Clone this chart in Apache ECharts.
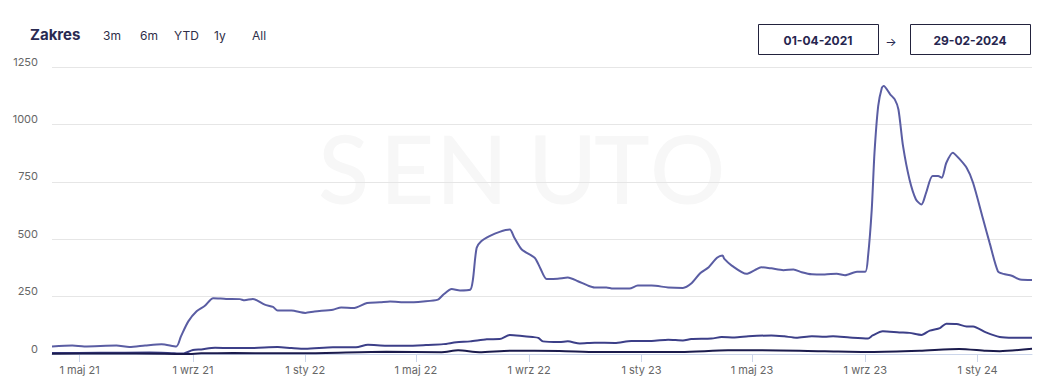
<!DOCTYPE html>
<html>
<head>
<meta charset="utf-8">
<script src="https://cdn.jsdelivr.net/npm/echarts@6/dist/echarts.min.js"></script>
<style>
html,body{margin:0;padding:0;background:#fff;}
#chart{width:1055px;height:389px;}
</style>
</head>
<body>
<div id="chart"></div>
<script>
// ---- DATA ----
const rangeButtons = ['3m', '6m', 'YTD', '1y', 'All'];
const rangeTitle = 'Zakres';
const dateFrom = '01-04-2021';
const dateTo = '29-02-2024';
const watermark = 'SENUTO';

const xMin = '2021-04-01';
const xMax = '2024-02-29';
const tickDates = ['2021-05-01','2021-09-01','2022-01-01','2022-05-01','2022-09-01','2023-01-01','2023-05-01','2023-09-01','2024-01-01'];
const tickLabels = ['1 maj 21','1 wrz 21','1 sty 22','1 maj 22','1 wrz 22','1 sty 23','1 maj 23','1 wrz 23','1 sty 24'];
const yTicks = [0, 250, 500, 750, 1000, 1250];

const datesA = ['2021-04-01','2021-04-23','2021-05-06','2021-06-10','2021-06-24','2021-07-11','2021-07-29','2021-08-14','2021-08-19','2021-08-27','2021-09-05','2021-09-14','2021-09-23','2021-10-07','2021-10-22','2021-10-27','2021-11-05','2021-11-18','2021-11-27','2021-12-02','2021-12-17','2022-01-01','2022-01-11','2022-01-31','2022-02-09','2022-02-22','2022-03-09','2022-03-23','2022-04-03','2022-04-21','2022-05-09','2022-05-25','2022-05-31','2022-06-09','2022-06-18','2022-06-29','2022-07-02','2022-07-06','2022-07-11','2022-07-20','2022-07-31','2022-08-11','2022-08-16','2022-08-24','2022-09-07','2022-09-13','2022-09-20','2022-10-02','2022-10-13','2022-10-24','2022-11-04','2022-11-11','2022-11-24','2022-12-01','2022-12-19','2022-12-28','2023-01-12','2023-01-30','2023-02-15','2023-02-24','2023-03-06','2023-03-15','2023-03-24','2023-03-30','2023-04-01','2023-04-09','2023-04-25','2023-05-04','2023-05-11','2023-05-22','2023-06-04','2023-06-15','2023-06-24','2023-07-05','2023-07-19','2023-08-01','2023-08-10','2023-08-23','2023-09-01','2023-09-04','2023-09-08','2023-09-11','2023-09-15','2023-09-19','2023-09-21','2023-09-28','2023-10-03','2023-10-07','2023-10-12','2023-10-19','2023-10-26','2023-11-01','2023-11-06','2023-11-13','2023-11-19','2023-11-23','2023-11-28','2023-12-05','2023-12-11','2023-12-20','2023-12-27','2024-01-07','2024-01-14','2024-01-23','2024-01-29','2024-02-07','2024-02-16','2024-02-29'];
const valuesA = [33,37,33,37,30,37,43,33,77,142,186,210,243,240,239,234,240,215,205,189,189,179,185,193,203,200,222,225,229,225,229,237,259,283,277,280,324,462,491,513,532,542,506,455,419,375,327,328,333,317,298,290,290,285,285,298,298,290,288,307,353,378,419,429,414,385,349,365,378,373,365,368,356,347,346,350,343,358,358,426,629,877,1080,1160,1167,1131,1109,1065,905,760,673,651,702,775,775,768,833,877,855,811,746,586,484,360,349,341,324,322];

const datesB = ['2021-04-01','2021-05-23','2021-07-16','2021-08-12','2021-08-21','2021-08-23','2021-09-01','2021-09-10','2021-09-25','2021-10-13','2021-11-03','2021-12-02','2021-12-17','2022-01-01','2022-01-31','2022-02-25','2022-03-10','2022-03-30','2022-04-21','2022-05-12','2022-05-31','2022-06-14','2022-06-29','2022-07-17','2022-07-31','2022-08-11','2022-08-22','2022-09-05','2022-09-11','2022-09-16','2022-10-04','2022-10-13','2022-10-26','2022-11-11','2022-12-03','2022-12-21','2023-01-12','2023-01-30','2023-02-15','2023-02-24','2023-03-18','2023-03-29','2023-04-12','2023-04-27','2023-05-22','2023-06-05','2023-06-18','2023-07-05','2023-07-19','2023-07-28','2023-08-15','2023-09-04','2023-09-09','2023-09-20','2023-10-08','2023-10-19','2023-11-01','2023-11-10','2023-11-21','2023-11-28','2023-12-09','2023-12-20','2023-12-27','2024-01-10','2024-01-25','2024-02-09','2024-02-29'];
const valuesB = [4,5,6,3,2,3,17,20,27,26,26,30,26,23,29,29,40,36,36,39,43,51,55,64,65,83,80,74,70,55,52,55,46,49,48,57,57,62,59,65,67,74,72,77,81,77,71,77,75,77,72,68,81,99,94,92,83,102,113,132,131,120,120,94,74,71,71];

const datesC = ['2021-04-01','2021-06-01','2021-08-01','2021-08-25','2021-09-10','2021-10-15','2021-12-01','2022-01-01','2022-03-30','2022-05-29','2022-06-16','2022-07-09','2022-08-11','2022-10-04','2022-11-14','2023-02-13','2023-04-05','2023-05-11','2023-07-19','2023-09-06','2023-10-30','2023-12-12','2024-01-10','2024-01-25','2024-02-29'];
const valuesC = [1,2,1,0,3,4,3,3,10,8,16,8,14,13,9,9,16,16,12,9,14,22,14,12,23];

// ---- CHART ----
const FONT = 'Inter, "Noto Sans", sans-serif';
const toTime = (s) => { const p = s.split('-').map(Number); return Date.UTC(p[0], p[1] - 1, p[2]); };
const zip = (d, v) => d.map((x, i) => [toTime(x), v[i]]);
const tickTimes = tickDates.map(toTime);
const labelFor = (val) => {
  const i = tickTimes.findIndex(t => Math.abs(t - val) < 43200000);
  return i >= 0 ? tickLabels[i] : '';
};

const chart = echarts.init(document.getElementById('chart'), null, {renderer: 'svg'});

const graphics = [];
const wmX = [318, 380, 436, 528, 594, 650];
watermark.split('').forEach((ch, i) => graphics.push({type: 'text', left: wmX[i], top: 120, z: -10, silent: true, style: {text: ch, font: '500 94px Lato, ' + FONT, fill: '#f7f7f7'}}));
graphics.push({type: 'text', left: 30, top: 27, style: {text: rangeTitle, font: 'bold 15px ' + FONT, fill: '#2a2a52'}});
const btnX = [103, 140, 174, 214, 252];
rangeButtons.forEach((b, i) => graphics.push({type: 'text', left: btnX[i], top: 29, style: {text: b, font: '12px ' + FONT, fill: '#2e2e48'}}));
const boxes = [{x: 758, t: dateFrom}, {x: 910, t: dateTo}];
boxes.forEach(b => {
  graphics.push({type: 'rect', shape: {x: b.x + 0.5, y: 24.5, width: 120, height: 30}, style: {fill: '#fff', stroke: '#22223d', lineWidth: 1}});
  graphics.push({type: 'text', x: b.x + 60, y: 40, style: {text: b.t, font: 'bold 12px ' + FONT, fill: '#26264f', align: 'center', verticalAlign: 'middle'}});
});
graphics.push({type: 'text', x: 891, y: 41, style: {text: '→', font: '12px ' + FONT, fill: '#26264f', align: 'center', verticalAlign: 'middle'}});

chart.setOption({
  animation: false,
  backgroundColor: '#fff',
  graphic: graphics,
  grid: {left: 52, right: 23, top: 67, bottom: 35},
  xAxis: {
    type: 'value',
    min: toTime(xMin),
    max: toTime(xMax),
    axisLine: {show: true, onZero: false, lineStyle: {color: '#ccd6eb', width: 1}},
    axisTick: {show: true, length: 8, lineStyle: {color: '#ccd6eb'}, customValues: tickTimes},
    axisLabel: {customValues: tickTimes, formatter: labelFor, color: '#666', fontSize: 11, fontFamily: FONT, margin: 10},
    splitLine: {show: false}
  },
  yAxis: {
    type: 'value',
    min: yTicks[0],
    max: yTicks[yTicks.length - 1],
    interval: 250,
    axisLine: {show: false},
    axisTick: {show: false},
    axisLabel: {color: '#666', fontSize: 11, fontFamily: FONT, margin: 14, verticalAlign: 'bottom', lineHeight: 11, formatter: (v) => String(v)},
    splitLine: {lineStyle: {color: '#e6e6e6', width: 1}}
  },
  series: [
    {type: 'line', data: zip(datesA, valuesA), showSymbol: false, smooth: 0.25, lineStyle: {color: '#5a5da3', width: 2}, itemStyle: {color: '#5a5da3'}},
    {type: 'line', data: zip(datesB, valuesB), showSymbol: false, smooth: 0.25, lineStyle: {color: '#3c3f88', width: 2}, itemStyle: {color: '#3c3f88'}},
    {type: 'line', data: zip(datesC, valuesC), showSymbol: false, smooth: 0.25, lineStyle: {color: '#1b1b4d', width: 2}, itemStyle: {color: '#1b1b4d'}}
  ]
});
</script>
</body>
</html>
